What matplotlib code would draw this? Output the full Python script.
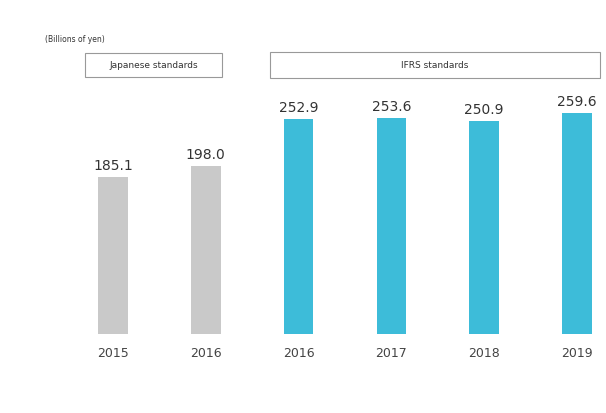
import matplotlib.pyplot as plt
from matplotlib.patches import Rectangle

years = ["2015", "2016", "2016", "2017", "2018", "2019"]
values = [185.1, 198.0, 252.9, 253.6, 250.9, 259.6]
standards = ["Japanese", "Japanese", "IFRS", "IFRS", "IFRS", "IFRS"]
colors = {"Japanese": "#c9c9c9", "IFRS": "#3dbcd9"}

W, H = 606, 414
fig = plt.figure(figsize=(W / 100, H / 100), dpi=100)

# axes placed in pixel terms: bars from x=113..577, baseline at y=335 px
px_per_x = (577 - 113) / 5
x_left = -113 / px_per_x
x_right = (W - 113) / px_per_x
bottom_px, top_px = 335, 100
ax = fig.add_axes([0, (H - bottom_px) / H, 1, (bottom_px - top_px) / H])
ax.set_xlim(x_left, x_right)
ax.set_ylim(0, (bottom_px - top_px) / 0.85)

pos = list(range(len(years)))
ax.bar(pos, values, width=0.32, color=[colors[s] for s in standards])

for x, v in zip(pos, values):
    ax.text(x, v + 6, f"{v:.1f}", ha="center", va="bottom", fontsize=10,
            color="#333333", clip_on=False)

ax.set_xticks(pos)
ax.set_xticklabels(years, fontsize=9, color="#444444")
ax.tick_params(length=0, pad=9)
ax.set_yticks([])
for s in ax.spines.values():
    s.set_visible(False)


def box(x0, y0, x1, y1, label):
    fig.add_artist(Rectangle((x0 / W, 1 - y1 / H), (x1 - x0) / W, (y1 - y0) / H,
                             transform=fig.transFigure, facecolor="white",
                             edgecolor="#999999", linewidth=0.8))
    fig.text((x0 + x1) / 2 / W, 1 - (y0 + y1) / 2 / H, label, ha="center",
             va="center", fontsize=6.5, color="#333333")


box(85, 54, 222, 78, "Japanese standards")
box(270, 53, 600, 79, "IFRS standards")

fig.text(45 / W, 1 - 40 / H, "(Billions of yen)", ha="left", va="center",
         fontsize=5.5, color="#333333")

fig.savefig("out.png", dpi=100)
